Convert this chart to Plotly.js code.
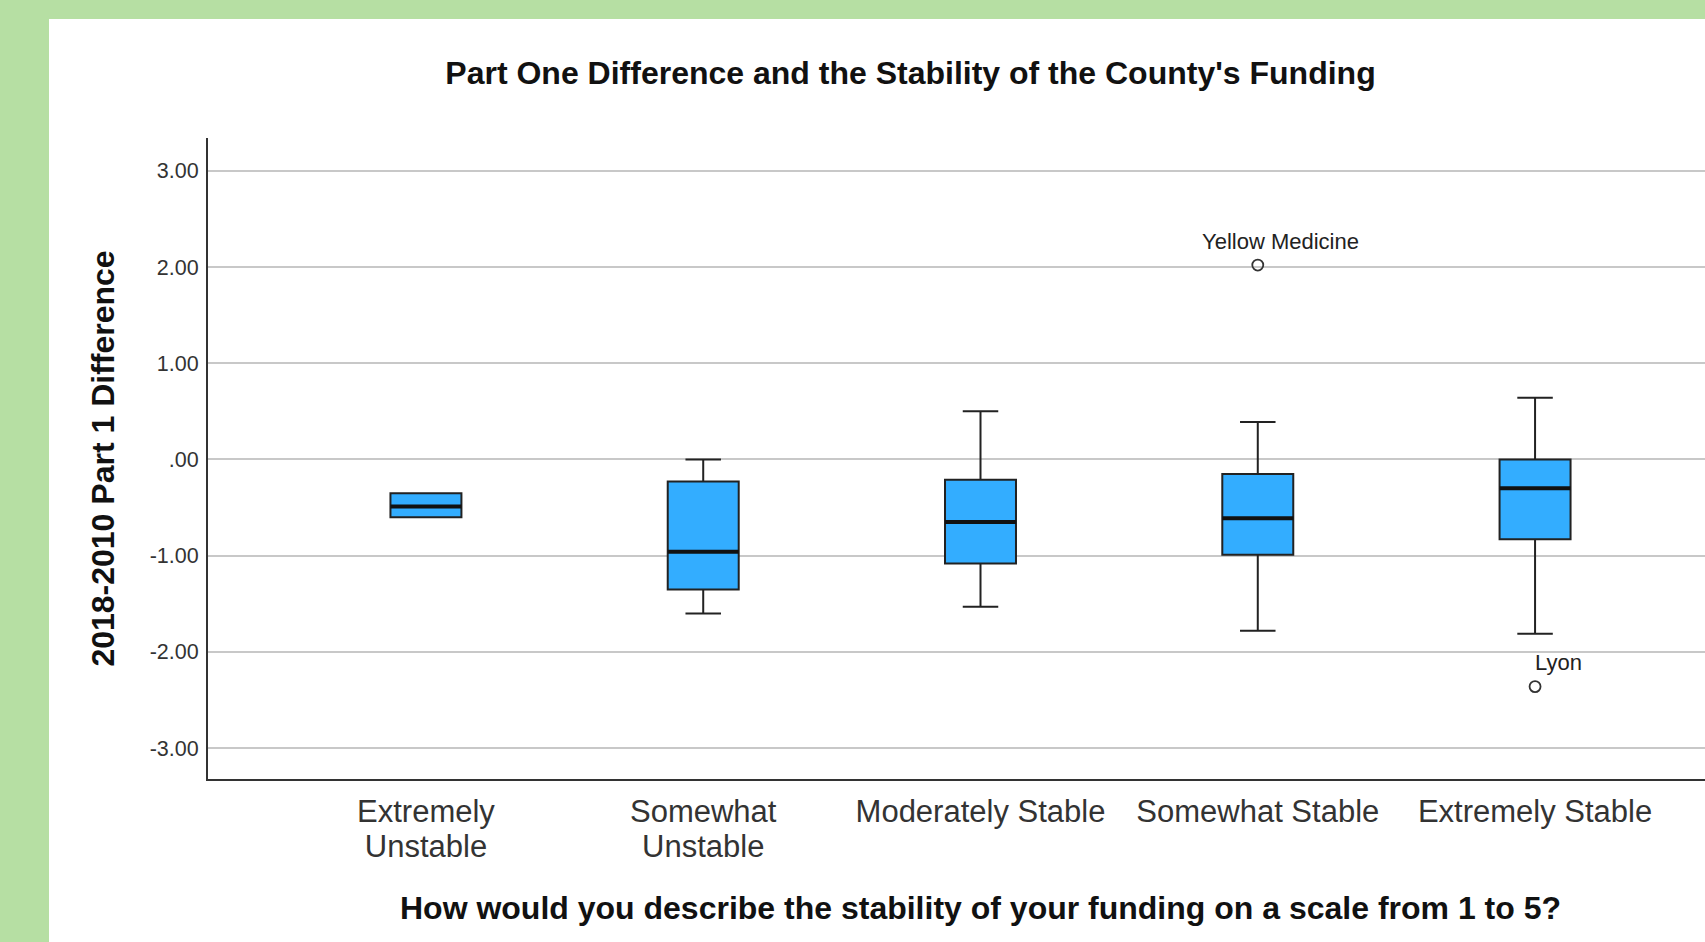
<!DOCTYPE html>
<html>
<head>
<meta charset="utf-8">
<script src="https://cdn.plot.ly/plotly-3.0.1.min.js"></script>
<style>
  html, body { margin: 0; padding: 0; overflow: hidden; background: #b6dfa3; width: 1705px; height: 942px; }
  #chart { position: absolute; left: 49px; top: 19px; width: 1723px; height: 923px; background: #ffffff; }
</style>
</head>
<body>
<div id="chart"></div>
<script>
// ---- data ----
const categories = ["Extremely Unstable", "Somewhat Unstable", "Moderately Stable", "Somewhat Stable", "Extremely Stable"];
const tickLabels = ["Extremely<br>Unstable", "Somewhat<br>Unstable", "Moderately Stable", "Somewhat Stable", "Extremely Stable"];
const lowerWhisker = [-0.60, -1.60, -1.53, -1.78, -1.81];
const q1Values     = [-0.60, -1.35, -1.08, -0.99, -0.83];
const medianValues = [-0.49, -0.96, -0.65, -0.61, -0.30];
const q3Values     = [-0.35, -0.23, -0.21, -0.15, 0.00];
const upperWhisker = [-0.35, 0.00, 0.50, 0.39, 0.64];
const outlierCategories = ["Somewhat Stable", "Extremely Stable"];
const outlierValues     = [2.02, -2.36];
const outlierLabels     = ["Yellow Medicine", "Lyon"];
const yTickValues = [3, 2, 1, 0, -1, -2, -3];
const yTickLabels = ["3.00", "2.00", "1.00", ".00", "-1.00", "-2.00", "-3.00"];

const FONT = "Liberation Sans, Arial, Helvetica, sans-serif";

const boxTrace = {
  type: "box",
  x: categories,
  q1: q1Values,
  median: medianValues,
  q3: q3Values,
  lowerfence: lowerWhisker,
  upperfence: upperWhisker,
  boxpoints: false,
  width: 0.256,
  whiskerwidth: 0.5,
  fillcolor: "#33adff",
  line: { color: "#222222", width: 2 },
  hoverinfo: "skip",
  showlegend: false
};

const medianTrace = {
  type: "box",
  x: categories,
  q1: medianValues,
  median: medianValues,
  q3: medianValues,
  lowerfence: medianValues,
  upperfence: medianValues,
  boxpoints: false,
  width: 0.256,
  whiskerwidth: 0,
  fillcolor: "rgba(0,0,0,0)",
  line: { color: "#111111", width: 4 },
  hoverinfo: "skip",
  showlegend: false
};

const outlierTrace = {
  type: "scatter",
  mode: "markers",
  x: outlierCategories,
  y: outlierValues,
  marker: { symbol: "circle-open", size: 11, color: "#333333", line: { width: 1.8, color: "#333333" } },
  hoverinfo: "skip",
  showlegend: false
};

const annotations = outlierCategories.map((c, i) => ({
  x: c, y: outlierValues[i], xref: "x", yref: "y",
  text: outlierLabels[i], showarrow: false,
  xanchor: "center", yanchor: "middle", xshift: 23, yshift: 24,
  font: { family: FONT, size: 22, color: "#222222" }
}));

const layout = {
  width: 1723, height: 923,
  paper_bgcolor: "#ffffff", plot_bgcolor: "#ffffff",
  margin: { l: 159, r: 19, t: 119, b: 163, pad: 0 },
  boxmode: "overlay",
  font: { family: FONT, color: "#222222" },
  title: {
    text: "<b>Part One Difference and the Stability of the County's Funding</b>",
    font: { family: FONT, size: 32, color: "#111111" },
    x: 0.5, xanchor: "center", xref: "container",
    y: 1 - 54 / 923, yanchor: "middle", yref: "container"
  },
  xaxis: {
    type: "category",
    categoryorder: "array", categoryarray: categories,
    range: [-0.786, 4.786],
    tickvals: categories, ticktext: tickLabels,
    tickfont: { family: FONT, size: 31, color: "#333333" },
    showgrid: false, zeroline: false,
    showline: true, linecolor: "#333333", linewidth: 2,
    ticks: "", ticklabelstandoff: 4,
    title: {
      text: "<b>How would you describe the stability of your funding on a scale from 1 to 5?</b>",
      font: { family: FONT, size: 32, color: "#111111" },
      standoff: 28
    },
    fixedrange: true
  },
  yaxis: {
    range: [-3.32, 3.34],
    tickvals: yTickValues, ticktext: yTickLabels,
    tickfont: { family: FONT, size: 21.5, color: "#333333" },
    showgrid: true, gridcolor: "#c8c8c8", gridwidth: 2,
    zeroline: false,
    showline: true, linecolor: "#333333", linewidth: 2,
    ticks: "", ticklabelstandoff: 3,
    title: {
      text: "<b>2018-2010 Part 1 Difference</b>",
      font: { family: FONT, size: 32, color: "#111111" },
      standoff: 25
    },
    fixedrange: true
  },
  annotations: annotations
};

function tightenTickLines() {
  document.querySelectorAll("#chart .xtick text tspan.line").forEach(t => {
    const dy = t.getAttribute("dy");
    if (dy && dy.endsWith("em")) {
      const v = parseFloat(dy);
      if (v > 0) t.setAttribute("dy", (v * 1.12 / 1.3) + "em");
    }
  });
}

Plotly.newPlot("chart", [boxTrace, medianTrace, outlierTrace], layout, { displayModeBar: false, staticPlot: true })
  .then(tightenTickLines);
</script>
</body>
</html>
